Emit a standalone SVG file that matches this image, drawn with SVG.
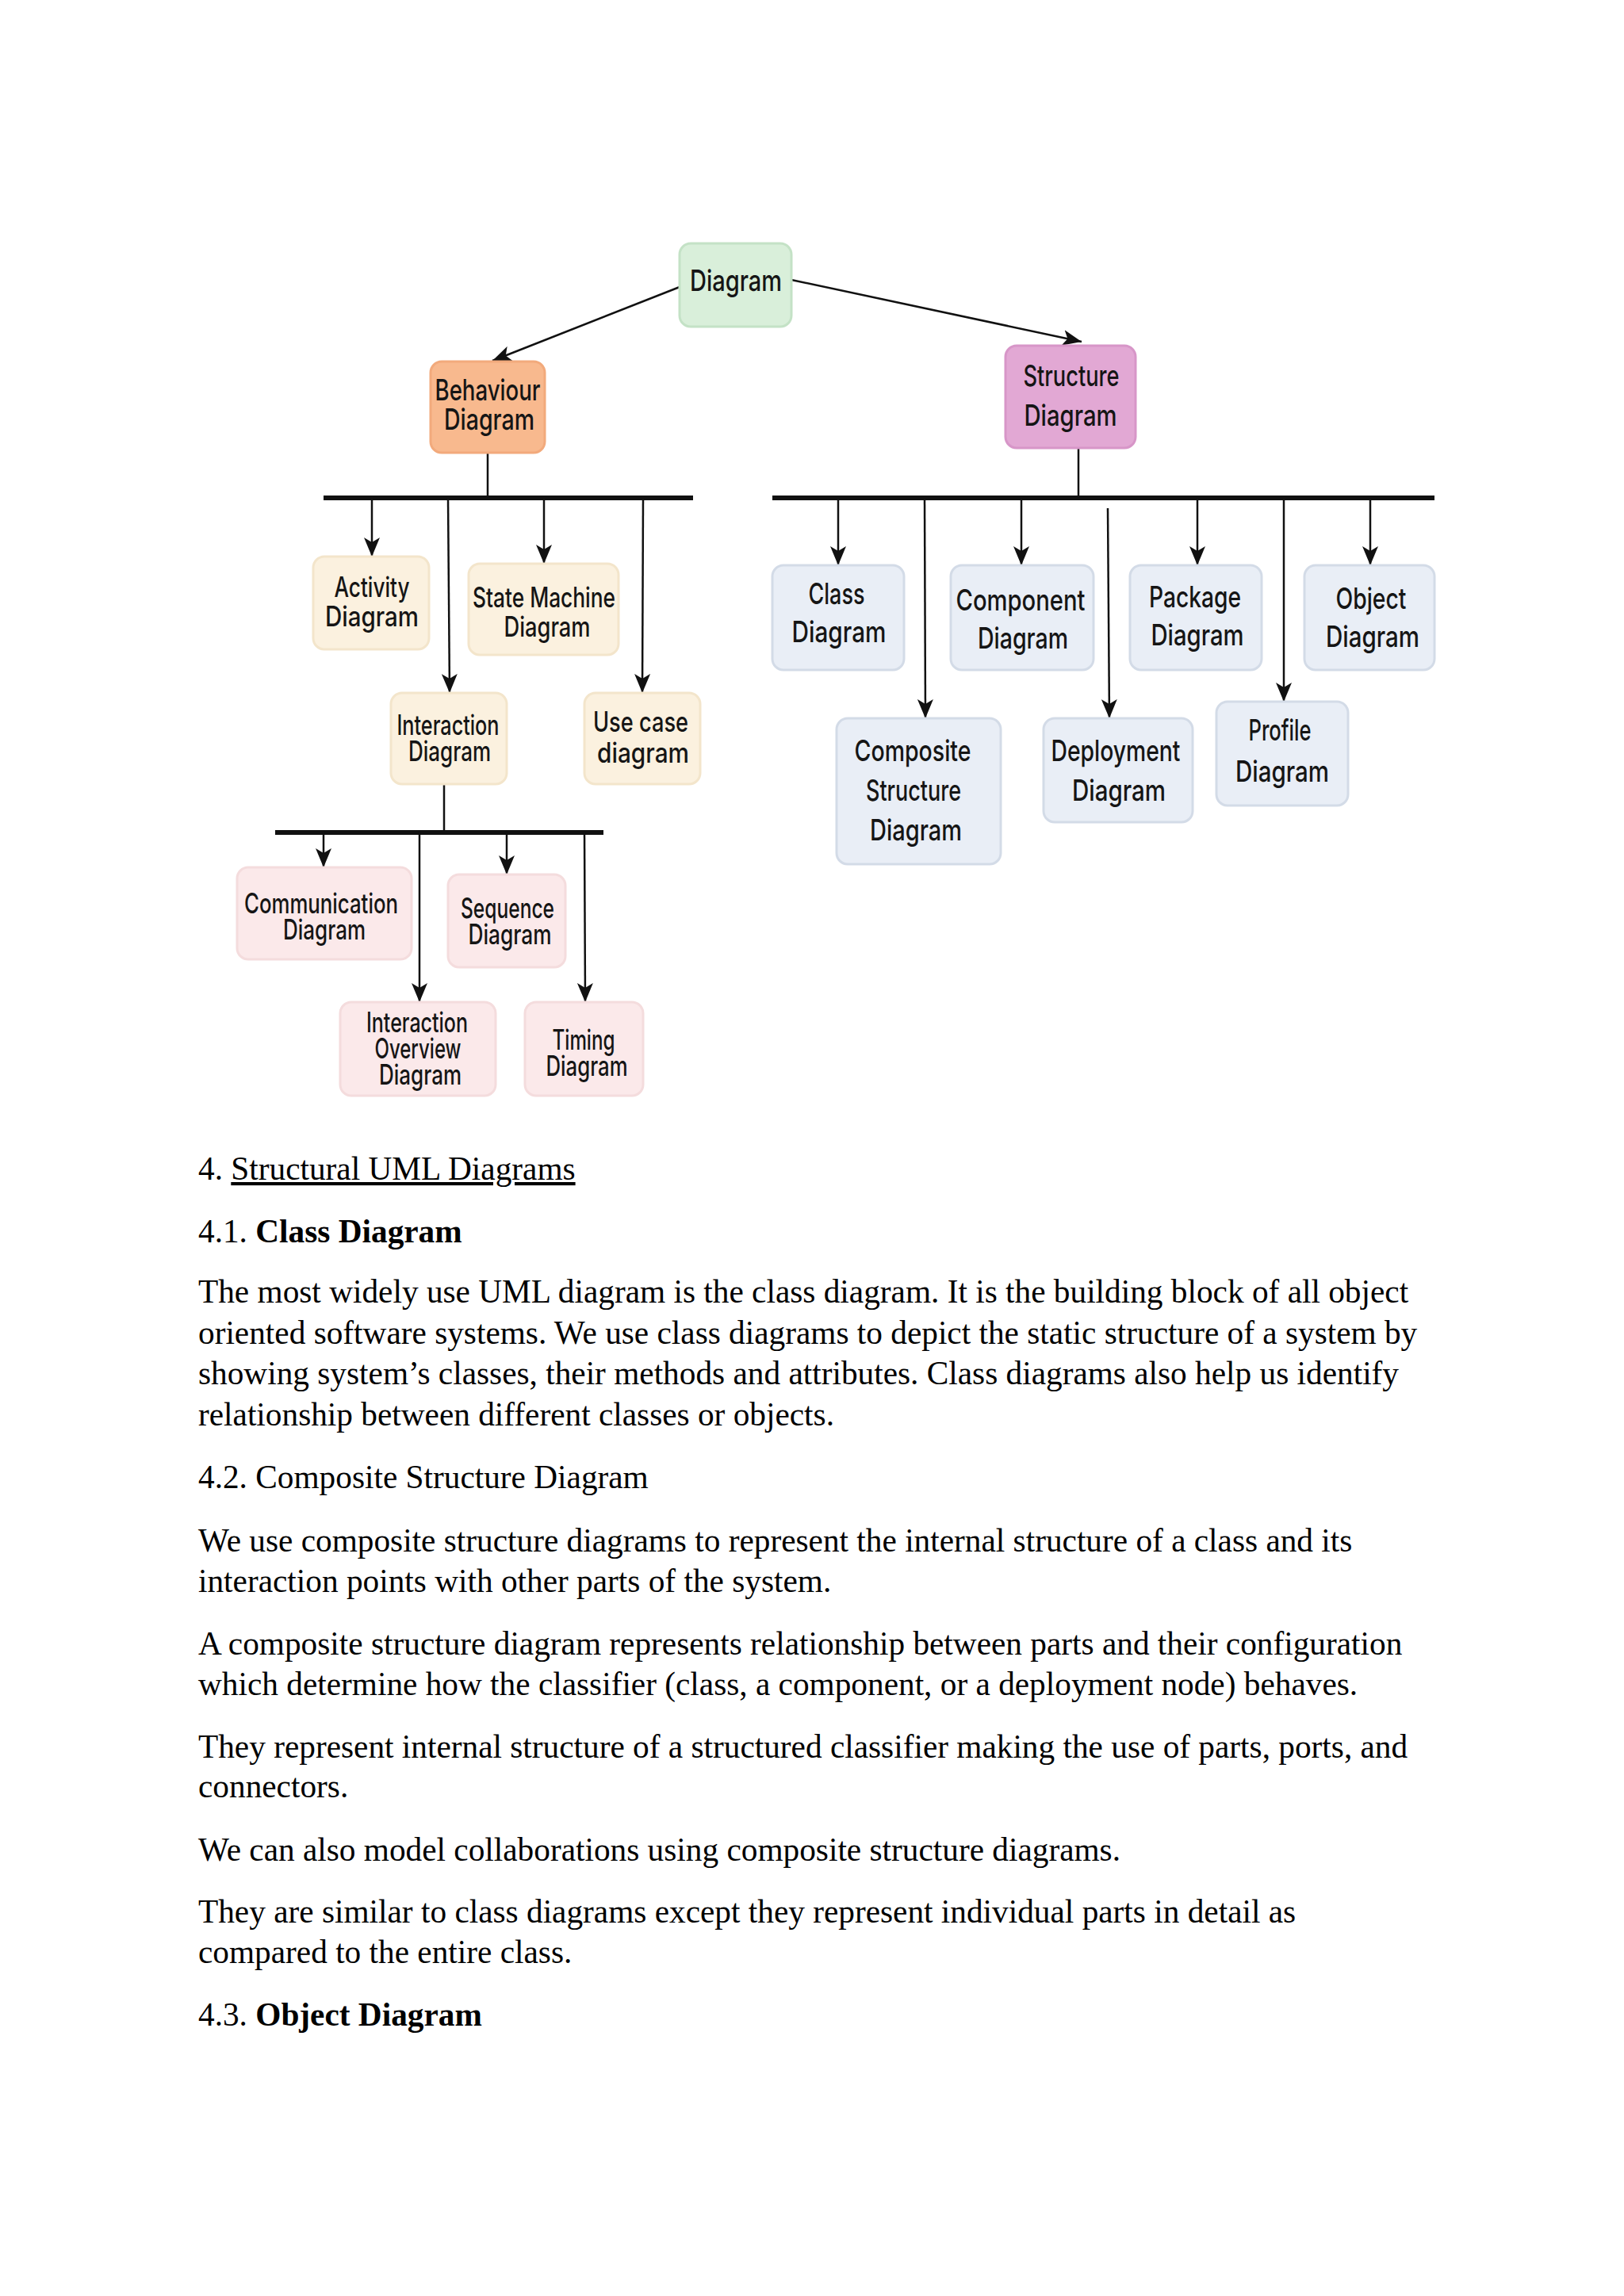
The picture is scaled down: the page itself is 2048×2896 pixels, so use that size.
<svg xmlns="http://www.w3.org/2000/svg" width="2048" height="2896" viewBox="0 0 2048 2896">
<defs>
<marker id="ahd" markerUnits="userSpaceOnUse" markerWidth="24" markerHeight="20" viewBox="0 0 24 20" refX="24" refY="10" orient="auto">
<path d="M0,0 L24,10 L0,20 L6,10 Z" fill="#111"/>
</marker>
</defs>
<style>
.n{font-family:Inter,"Open Sans","DejaVu Sans",sans-serif;font-weight:500;fill:#151515;text-anchor:middle;}
.s{font-size:37px;}
.b{font-size:35px;}
.g{fill:#d9efda;stroke:#c4e2c6;stroke-width:3;}
.o{fill:#f8b98e;stroke:#f2aa7c;stroke-width:3;}
.p{fill:#e2a8d4;stroke:#d796c8;stroke-width:3;}
.c{fill:#fbf1df;stroke:#f3e5cb;stroke-width:3;}
.k{fill:#fbe9ea;stroke:#f4dcdd;stroke-width:3;}
.l{fill:#e9eef6;stroke:#d3dbe7;stroke-width:3;}
.ln{stroke:#111;stroke-width:2.5;fill:none;}
.bar{stroke:#111;stroke-width:6;fill:none;}
.t{font-family:"Liberation Serif","Times New Roman",serif;font-size:41.3px;fill:#000;}
.bd{font-weight:bold;}
</style>
<rect width="2048" height="2896" fill="#fff"/>

<g id="connectors">
<line class="ln" x1="857" y1="362" x2="621" y2="455" marker-end="url(#ahd)"/>
<line class="ln" x1="998" y1="353" x2="1364" y2="431" marker-end="url(#ahd)"/>
<line class="ln" x1="615" y1="571" x2="615" y2="628"/>
<line class="bar" x1="408" y1="628" x2="874" y2="628"/>
<line class="ln" x1="469" y1="628" x2="469" y2="702" marker-end="url(#ahd)"/>
<line class="ln" x1="565" y1="628" x2="567" y2="874" marker-end="url(#ahd)"/>
<line class="ln" x1="686" y1="628" x2="686" y2="711" marker-end="url(#ahd)"/>
<line class="ln" x1="811" y1="628" x2="810" y2="874" marker-end="url(#ahd)"/>
<line class="ln" x1="560" y1="989" x2="560" y2="1050"/>
<line class="bar" x1="347" y1="1050" x2="761" y2="1050"/>
<line class="ln" x1="408" y1="1050" x2="408" y2="1094" marker-end="url(#ahd)"/>
<line class="ln" x1="529" y1="1050" x2="529" y2="1264" marker-end="url(#ahd)"/>
<line class="ln" x1="639" y1="1050" x2="639" y2="1103" marker-end="url(#ahd)"/>
<line class="ln" x1="737" y1="1050" x2="738" y2="1264" marker-end="url(#ahd)"/>
<line class="ln" x1="1360" y1="565" x2="1360" y2="628"/>
<line class="bar" x1="974" y1="628" x2="1809" y2="628"/>
<line class="ln" x1="1057" y1="628" x2="1057" y2="713" marker-end="url(#ahd)"/>
<line class="ln" x1="1166" y1="628" x2="1167" y2="906" marker-end="url(#ahd)"/>
<line class="ln" x1="1288" y1="628" x2="1288" y2="713" marker-end="url(#ahd)"/>
<line class="ln" x1="1397" y1="641" x2="1399" y2="906" marker-end="url(#ahd)"/>
<line class="ln" x1="1510" y1="628" x2="1510" y2="713" marker-end="url(#ahd)"/>
<line class="ln" x1="1619" y1="628" x2="1619" y2="885" marker-end="url(#ahd)"/>
<line class="ln" x1="1728" y1="628" x2="1728" y2="713" marker-end="url(#ahd)"/>
</g>

<g id="diagram">
<rect class="g" x="857" y="307" width="141" height="105" rx="14"/>
<text class="n s" x="928" y="367" textLength="116" lengthAdjust="spacingAndGlyphs">Diagram</text>
</g>
<g id="behaviour">
<rect class="o" x="543" y="456" width="144" height="115" rx="14"/>
<text class="n s" x="615" y="505" textLength="133" lengthAdjust="spacingAndGlyphs">Behaviour</text>
<text class="n s" x="617" y="542" textLength="114" lengthAdjust="spacingAndGlyphs">Diagram</text>
</g>
<g id="structure">
<rect class="p" x="1268" y="436" width="164" height="129" rx="14"/>
<text class="n s" x="1351" y="487" textLength="121" lengthAdjust="spacingAndGlyphs">Structure</text>
<text class="n s" x="1350" y="537" textLength="117" lengthAdjust="spacingAndGlyphs">Diagram</text>
</g>

<g id="activity">
<rect class="c" x="395" y="702" width="146" height="117" rx="14"/>
<text class="n b" x="469" y="753" textLength="95" lengthAdjust="spacingAndGlyphs">Activity</text>
<text class="n b" x="469" y="790" textLength="118" lengthAdjust="spacingAndGlyphs">Diagram</text>
</g>
<g id="statemachine">
<rect class="c" x="591" y="711" width="189" height="115" rx="14"/>
<text class="n b" x="686" y="766" textLength="180" lengthAdjust="spacingAndGlyphs">State Machine</text>
<text class="n b" x="690" y="803" textLength="109" lengthAdjust="spacingAndGlyphs">Diagram</text>
</g>
<g id="interaction">
<rect class="c" x="493" y="874" width="146" height="115" rx="14"/>
<text class="n b" x="565" y="927" textLength="129" lengthAdjust="spacingAndGlyphs">Interaction</text>
<text class="n b" x="567" y="960" textLength="104" lengthAdjust="spacingAndGlyphs">Diagram</text>
</g>
<g id="usecase">
<rect class="c" x="737" y="874" width="146" height="115" rx="14"/>
<text class="n b" x="808" y="923" textLength="120" lengthAdjust="spacingAndGlyphs">Use case</text>
<text class="n b" x="811" y="962" textLength="116" lengthAdjust="spacingAndGlyphs">diagram</text>
</g>

<g id="communication">
<rect class="k" x="299" y="1094" width="220" height="116" rx="14"/>
<text class="n b" x="405" y="1152" textLength="194" lengthAdjust="spacingAndGlyphs">Communication</text>
<text class="n b" x="409" y="1185" textLength="104" lengthAdjust="spacingAndGlyphs">Diagram</text>
</g>
<g id="sequence">
<rect class="k" x="565" y="1103" width="148" height="117" rx="14"/>
<text class="n b" x="640" y="1158" textLength="118" lengthAdjust="spacingAndGlyphs">Sequence</text>
<text class="n b" x="643" y="1191" textLength="105" lengthAdjust="spacingAndGlyphs">Diagram</text>
</g>
<g id="interactionoverview">
<rect class="k" x="429" y="1264" width="196" height="118" rx="14"/>
<text class="n b" x="526" y="1302" textLength="128" lengthAdjust="spacingAndGlyphs">Interaction</text>
<text class="n b" x="527" y="1335" textLength="109" lengthAdjust="spacingAndGlyphs">Overview</text>
<text class="n b" x="530" y="1368" textLength="104" lengthAdjust="spacingAndGlyphs">Diagram</text>
</g>
<g id="timing">
<rect class="k" x="662" y="1264" width="149" height="118" rx="14"/>
<text class="n b" x="736" y="1324" textLength="79" lengthAdjust="spacingAndGlyphs">Timing</text>
<text class="n b" x="740" y="1357" textLength="103" lengthAdjust="spacingAndGlyphs">Diagram</text>
</g>

<g id="class">
<rect class="l" x="974" y="713" width="166" height="132" rx="14"/>
<text class="n s" x="1055" y="762" textLength="71" lengthAdjust="spacingAndGlyphs">Class</text>
<text class="n s" x="1058" y="810" textLength="119" lengthAdjust="spacingAndGlyphs">Diagram</text>
</g>
<g id="component">
<rect class="l" x="1199" y="713" width="180" height="132" rx="14"/>
<text class="n s" x="1287" y="770" textLength="163" lengthAdjust="spacingAndGlyphs">Component</text>
<text class="n s" x="1290" y="818" textLength="114" lengthAdjust="spacingAndGlyphs">Diagram</text>
</g>
<g id="package">
<rect class="l" x="1425" y="713" width="166" height="132" rx="14"/>
<text class="n s" x="1507" y="766" textLength="116" lengthAdjust="spacingAndGlyphs">Package</text>
<text class="n s" x="1510" y="814" textLength="117" lengthAdjust="spacingAndGlyphs">Diagram</text>
</g>
<g id="object">
<rect class="l" x="1645" y="713" width="164" height="132" rx="14"/>
<text class="n s" x="1729" y="768" textLength="89" lengthAdjust="spacingAndGlyphs">Object</text>
<text class="n s" x="1731" y="816" textLength="118" lengthAdjust="spacingAndGlyphs">Diagram</text>
</g>
<g id="composite">
<rect class="l" x="1055" y="906" width="207" height="184" rx="14"/>
<text class="n s" x="1151" y="960" textLength="147" lengthAdjust="spacingAndGlyphs">Composite</text>
<text class="n s" x="1152" y="1010" textLength="120" lengthAdjust="spacingAndGlyphs">Structure</text>
<text class="n s" x="1155" y="1060" textLength="116" lengthAdjust="spacingAndGlyphs">Diagram</text>
</g>
<g id="deployment">
<rect class="l" x="1316" y="906" width="188" height="131" rx="14"/>
<text class="n s" x="1407" y="960" textLength="163" lengthAdjust="spacingAndGlyphs">Deployment</text>
<text class="n s" x="1411" y="1010" textLength="118" lengthAdjust="spacingAndGlyphs">Diagram</text>
</g>
<g id="profile">
<rect class="l" x="1534" y="885" width="166" height="131" rx="14"/>
<text class="n s" x="1614" y="934" textLength="79" lengthAdjust="spacingAndGlyphs">Profile</text>
<text class="n s" x="1617" y="986" textLength="118" lengthAdjust="spacingAndGlyphs">Diagram</text>
</g>

<g id="body">
<text class="t" x="250" y="1488">4. <tspan text-decoration="underline">Structural UML Diagrams </tspan></text>
<text class="t" x="250" y="1567">4.1. <tspan class="bd">Class Diagram</tspan></text>
<text class="t" x="250" y="1643">The most widely use UML diagram is the class diagram. It is the building block of all object</text>
<text class="t" x="250" y="1695">oriented software systems. We use class diagrams to depict the static structure of a system by</text>
<text class="t" x="250" y="1746">showing system’s classes, their methods and attributes. Class diagrams also help us identify</text>
<text class="t" x="250" y="1798">relationship between different classes or objects.</text>
<text class="t" x="250" y="1877">4.2. Composite Structure Diagram</text>
<text class="t" x="250" y="1957">We use composite structure diagrams to represent the internal structure of a class and its</text>
<text class="t" x="250" y="2008">interaction points with other parts of the system.</text>
<text class="t" x="250" y="2087">A composite structure diagram represents relationship between parts and their configuration</text>
<text class="t" x="250" y="2138">which determine how the classifier (class, a component, or a deployment node) behaves.</text>
<text class="t" x="250" y="2217">They represent internal structure of a structured classifier making the use of parts, ports, and</text>
<text class="t" x="250" y="2267">connectors.</text>
<text class="t" x="250" y="2347">We can also model collaborations using composite structure diagrams.</text>
<text class="t" x="250" y="2425">They are similar to class diagrams except they represent individual parts in detail as</text>
<text class="t" x="250" y="2476">compared to the entire class.</text>
<text class="t" x="250" y="2555">4.3. <tspan class="bd">Object Diagram</tspan></text>
</g>
</svg>
